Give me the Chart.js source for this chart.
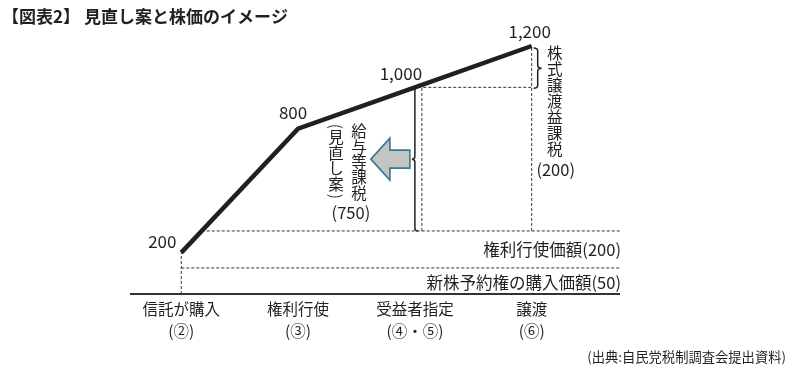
<!DOCTYPE html>
<html>
<head>
<meta charset="utf-8">
<script src="https://cdn.jsdelivr.net/npm/chart.js@4.4.1/dist/chart.umd.min.js"></script>
<style>
  html, body { margin: 0; padding: 0; background: #ffffff; }
  #wrap { position: relative; width: 800px; height: 379px; }
</style>
</head>
<body>
<div id="wrap"><canvas id="c"></canvas></div>
<script>
// ---- data ----
const titleText = '【図表2】 見直し案と株価のイメージ';
const stages = ['信託が購入', '権利行使', '受益者指定', '譲渡'];
const stageNotes = ['(②)', '(③)', '(④・⑤)', '(⑥)'];
const stagePos = [1, 2, 3, 4];
const stockPrice = [200, 800, 1000, 1200];
const priceLabels = ['200', '800', '1,000', '1,200'];
const exerciseLevel = 305;   // drawn level of the 権利行使価額 guide (not to scale)
const purchaseLevel = 126;   // drawn level of the 新株予約権 guide (not to scale)
const levelLabels = ['権利行使価額(200)', '新株予約権の購入価額(50)'];
const salaryTaxLines = ['給与等課税', '見直し案'];
const salaryTaxValue = '(750)';
const transferTaxLines = ['株式譲渡益課税'];
const transferTaxValue = '(200)';
const sourceText = '(出典:自民党税制調査会提出資料)';

const X_MIN = 0.561, X_MAX = 4.756, Y_MIN = 0, Y_MAX = 1200;
const INK = '#231f20';
const JP = '"Noto Sans CJK JP", "Noto Sans", sans-serif';

// x where the main line crosses a given level (first segment)
function crossX(level) {
  for (let i = 0; i < stockPrice.length - 1; i++) {
    const a = stockPrice[i], b = stockPrice[i + 1];
    if ((level - a) * (level - b) <= 0) {
      return stagePos[i] + (level - a) / (b - a) * (stagePos[i + 1] - stagePos[i]);
    }
  }
  return stagePos[0];
}

const dotted = { borderColor: '#333333', borderWidth: 1, borderDash: [3, 2], pointRadius: 0, fill: false, clip: false, tension: 0 };

const datasets = [
  Object.assign({ label: 'price', data: stagePos.map((x, i) => ({ x, y: stockPrice[i] })),
    borderColor: INK, borderWidth: 4.5, pointRadius: 0, fill: false, clip: false, tension: 0, borderCapStyle: 'butt', borderJoinStyle: 'miter' }),
  Object.assign({}, dotted, { label: 'exercise', data: [{ x: crossX(exerciseLevel), y: exerciseLevel }, { x: X_MAX, y: exerciseLevel }] }),
  Object.assign({}, dotted, { label: 'purchase', data: [{ x: stagePos[0], y: purchaseLevel }, { x: X_MAX, y: purchaseLevel }] }),
  Object.assign({}, dotted, { label: 'v1', data: [{ x: stagePos[0], y: 0 }, { x: stagePos[0], y: stockPrice[0] }] }),
  Object.assign({}, dotted, { label: 'v4', data: [{ x: stagePos[3], y: exerciseLevel }, { x: stagePos[3], y: stockPrice[3] }] })
];

function brace(ctx, x, y1, y2, dir, w) {
  const ym = (y1 + y2) / 2, r = 3;
  ctx.beginPath();
  ctx.moveTo(x - dir * w, y1);
  ctx.quadraticCurveTo(x, y1, x, y1 + r);
  ctx.lineTo(x, ym - r);
  ctx.quadraticCurveTo(x, ym, x + dir * w, ym);
  ctx.quadraticCurveTo(x, ym, x, ym + r);
  ctx.lineTo(x, y2 - r);
  ctx.quadraticCurveTo(x, y2, x - dir * w, y2);
  ctx.stroke();
}

function vText(ctx, str, x, yStart, step) {
  let y = yStart;
  for (const ch of str) {
    ctx.fillText(ch, x, y);
    y += step;
  }
}

function rotParen(ctx, ch, x, y) {
  ctx.save();
  ctx.translate(x, y);
  ctx.rotate(Math.PI / 2);
  ctx.fillText(ch, 0, 0);
  ctx.restore();
}

const overlay = {
  id: 'overlay',
  afterDatasetsDraw(chart) {
    const ctx = chart.ctx;
    const xs = chart.scales.x, ys = chart.scales.y;
    const area = chart.chartArea;
    const X = v => xs.getPixelForValue(v);
    const Y = v => ys.getPixelForValue(v);
    ctx.save();

    // base axis
    ctx.strokeStyle = '#333333';
    ctx.lineWidth = 2;
    ctx.beginPath();
    ctx.moveTo(area.left, Y(0));
    ctx.lineTo(area.right, Y(0));
    ctx.stroke();

    const bx = X(stagePos[2]);
    const yTop3 = Y(stockPrice[2]);
    const yEx = Y(exerciseLevel);
    const x4 = X(stagePos[3]);

    // dotted box
    ctx.strokeStyle = '#333333';
    ctx.lineWidth = 1;
    ctx.setLineDash([3, 2]);
    ctx.beginPath();
    ctx.moveTo(bx + 7, yEx);
    ctx.lineTo(bx + 7, yTop3);
    ctx.lineTo(x4, yTop3);
    ctx.stroke();
    ctx.setLineDash([]);

    // braces
    ctx.strokeStyle = INK;
    ctx.lineWidth = 1.5;
    brace(ctx, bx, yTop3, yEx, -1, 3);
    brace(ctx, x4 + 6, Y(stockPrice[3]) + 2, yTop3 + 1, 1, 4);

    // arrow
    const ym = (yTop3 + yEx) / 2;
    ctx.beginPath();
    ctx.moveTo(bx - 44, ym);
    ctx.lineTo(bx - 25, ym - 21);
    ctx.lineTo(bx - 25, ym - 9);
    ctx.lineTo(bx - 5, ym - 9);
    ctx.lineTo(bx - 5, ym + 9);
    ctx.lineTo(bx - 25, ym + 9);
    ctx.lineTo(bx - 25, ym + 21);
    ctx.closePath();
    ctx.fillStyle = '#c4c4c4';
    ctx.fill();
    ctx.strokeStyle = '#3b7694';
    ctx.lineWidth = 1.6;
    ctx.stroke();

    ctx.fillStyle = INK;
    ctx.textBaseline = 'middle';

    // price labels
    ctx.font = '17px ' + JP;
    ctx.textAlign = 'center';
    const lblOff = [[-19, -11], [-5, -16], [-14, -14], [-2, -14]];
    priceLabels.forEach((t, i) => {
      ctx.fillText(t, X(stagePos[i]) + lblOff[i][0], Y(stockPrice[i]) + lblOff[i][1]);
    });

    // level labels
    ctx.font = '16.5px ' + JP;
    ctx.textAlign = 'right';
    ctx.fillText(levelLabels[0], area.right + 1, yEx + 19);
    ctx.fillText(levelLabels[1], area.right + 1, Y(purchaseLevel) + 15);

    // salary tax vertical text
    ctx.textAlign = 'center';
    ctx.font = '15.5px ' + JP;
    vText(ctx, salaryTaxLines[0], bx - 56, yTop3 + 44, 15.4);
    const cx2 = bx - 79;
    rotParen(ctx, '(', cx2, yTop3 + 39);
    vText(ctx, salaryTaxLines[1], cx2, yTop3 + 50, 15.5);
    rotParen(ctx, ')', cx2, yTop3 + 109);
    ctx.font = '16.5px ' + JP;
    ctx.fillText(salaryTaxValue, bx - 64, yEx - 18);

    // transfer tax vertical text
    ctx.font = '15.5px ' + JP;
    vText(ctx, transferTaxLines[0], x4 + 23, Y(stockPrice[3]) + 7, 16);
    ctx.font = '16.5px ' + JP;
    ctx.fillText(transferTaxValue, x4 + 24, Y(stockPrice[3]) + 124);

    // category labels
    ctx.font = '15.5px ' + JP;
    ctx.textAlign = 'center';
    stages.forEach((t, i) => {
      ctx.fillText(t, X(stagePos[i]), Y(0) + 15);
      ctx.fillText(stageNotes[i], X(stagePos[i]), Y(0) + 37);
    });

    // title
    ctx.textAlign = 'left';
    ctx.font = 'bold 17px ' + JP;
    ctx.fillText(titleText, 2, 17);

    // source
    ctx.textAlign = 'right';
    ctx.font = '13.3px ' + JP;
    ctx.fillText(sourceText, 786, 357);

    ctx.restore();
  }
};

new Chart(document.getElementById('c'), {
  type: 'line',
  data: { datasets },
  options: {
    responsive: true,
    maintainAspectRatio: false,
    animation: false,
    layout: { padding: { left: 130, right: 180, top: 46, bottom: 85 } },
    plugins: { legend: { display: false }, tooltip: { enabled: false }, title: { display: false } },
    scales: {
      x: { type: 'linear', min: X_MIN, max: X_MAX, display: false },
      y: { type: 'linear', min: Y_MIN, max: Y_MAX, display: false }
    }
  },
  plugins: [overlay]
});
</script>
</body>
</html>
